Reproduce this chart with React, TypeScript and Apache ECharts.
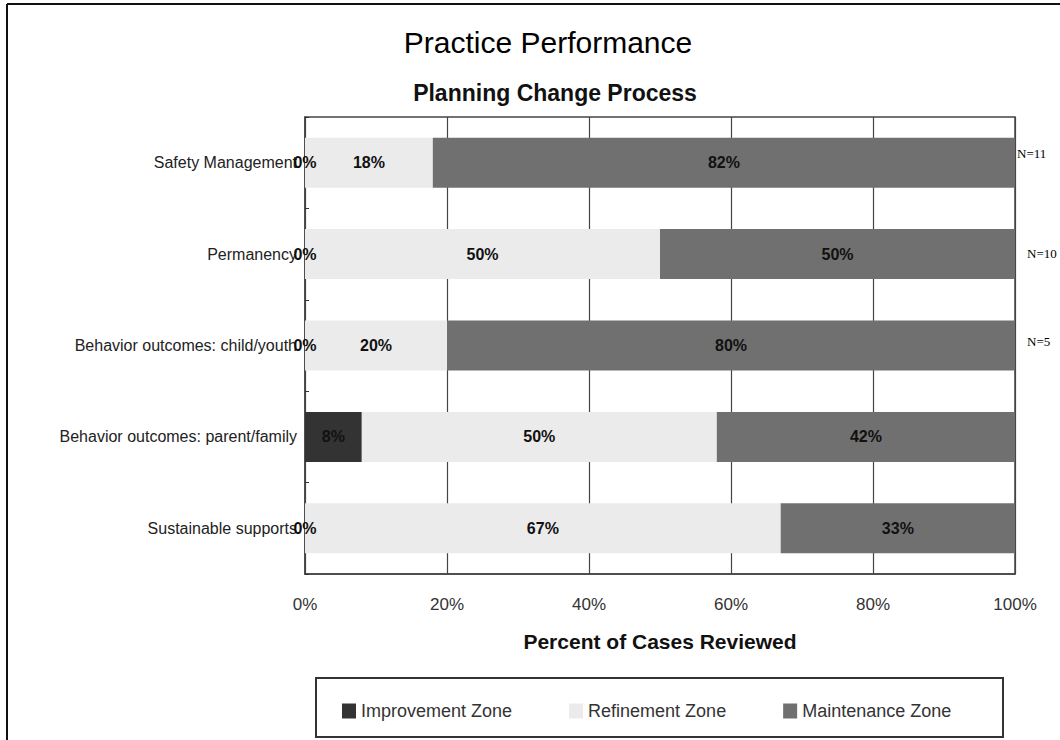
import React, { useEffect, useRef } from "react";
import * as echarts from "echarts";

const categories = [
  "Safety Management",
  "Permanency",
  "Behavior outcomes: child/youth",
  "Behavior outcomes: parent/family",
  "Sustainable supports",
];
const improvement = [0, 0, 0, 8, 0];
const refinement = [18, 50, 20, 50, 67];
const maintenance = [82, 50, 80, 42, 33];
const caseCounts = ["N=11", "N=10", "N=5", "", ""];
const xTicks = [0, 20, 40, 60, 80, 100];

const NARROW = "'Liberation Sans Narrow', 'Arial Narrow', 'Liberation Sans', Arial, sans-serif";

export default function App() {
  const ref = useRef<HTMLDivElement>(null);

  useEffect(() => {
    if (!ref.current) return;
    const chart = echarts.init(ref.current, null, { renderer: "svg" });

    const valueLabel = {
      show: true,
      position: "inside",
      formatter: "{c}%",
      fontFamily: NARROW,
      fontWeight: "bold",
      fontSize: 16,
      color: "#111",
    };

    // per-row offsets for the case-count notes at the right edge
    const noteOffsets = [
      [2, -9],
      [12, -1],
      [12, -4],
      [0, 0],
      [0, 0],
    ];

    chart.setOption({
      animation: false,
      backgroundColor: "#fff",
      title: [
        {
          text: "Practice Performance",
          left: 543,
          top: 22,
          textAlign: "center",
          textStyle: { fontFamily: NARROW, fontSize: 30, fontWeight: "normal", color: "#000" },
        },
        {
          text: "Planning Change Process",
          left: 550,
          top: 76,
          textAlign: "center",
          textStyle: { fontFamily: NARROW, fontSize: 23, fontWeight: "bold", color: "#111" },
        },
      ],
      legend: {
        data: ["Improvement Zone", "Refinement Zone", "Maintenance Zone"],
        left: 337,
        top: 697,
        itemWidth: 14,
        itemHeight: 15,
        itemGap: 57,
        icon: "rect",
        textStyle: { fontFamily: NARROW, fontSize: 18, color: "#333" },
      },
      grid: {
        left: 305,
        right: 45,
        top: 117,
        bottom: 166,
        show: true,
        borderColor: "#444",
        borderWidth: 1.5,
        backgroundColor: "transparent",
      },
      xAxis: {
        type: "value",
        min: xTicks[0],
        max: xTicks[xTicks.length - 1],
        interval: 20,
        name: "Percent of Cases Reviewed",
        nameLocation: "middle",
        nameGap: 57,
        nameTextStyle: { fontFamily: NARROW, fontSize: 21, fontWeight: "bold", color: "#111" },
        axisLine: { show: true, lineStyle: { color: "#444", width: 1.5 } },
        axisTick: { show: false },
        axisLabel: {
          formatter: "{value}%",
          fontFamily: NARROW,
          fontSize: 17,
          color: "#333",
          margin: 22,
        },
        splitLine: { show: true, lineStyle: { color: "#444", width: 1.2 } },
      },
      yAxis: {
        type: "category",
        inverse: true,
        data: categories,
        axisLine: { show: true, lineStyle: { color: "#444", width: 1.5 } },
        axisTick: { show: true, inside: true, length: 4, lineStyle: { color: "#333" } },
        axisLabel: { fontFamily: NARROW, fontSize: 16, color: "#222", margin: 8 },
        splitLine: { show: false },
      },
      series: [
        {
          name: "Improvement Zone",
          type: "bar",
          stack: "total",
          barWidth: 50,
          data: improvement,
          itemStyle: { color: "#333333" },
          label: valueLabel,
        },
        {
          name: "Refinement Zone",
          type: "bar",
          stack: "total",
          barWidth: 50,
          data: refinement,
          itemStyle: { color: "#ebebeb" },
          label: valueLabel,
        },
        {
          name: "Maintenance Zone",
          type: "bar",
          stack: "total",
          barWidth: 50,
          data: maintenance,
          itemStyle: { color: "#707070" },
          label: valueLabel,
        },
        {
          name: "Cases",
          type: "bar",
          stack: "total",
          barWidth: 50,
          data: caseCounts.map((n, i) => ({
            value: 0,
            label: {
              show: n !== "",
              position: "right",
              distance: noteOffsets[i][0],
              offset: [0, noteOffsets[i][1]],
              formatter: n,
              fontFamily: "'Liberation Serif', 'Times New Roman', serif",
              fontSize: 13,
              color: "#000",
            },
          })),
          itemStyle: { color: "transparent" },
          silent: true,
        },
      ],
      graphic: [
        {
          type: "line",
          shape: { x1: 7, y1: 4, x2: 1060, y2: 4 },
          style: { stroke: "#111", lineWidth: 2 },
        },
        {
          type: "line",
          shape: { x1: 7, y1: 4, x2: 7, y2: 740 },
          style: { stroke: "#111", lineWidth: 2 },
        },
        {
          type: "rect",
          shape: { x: 316, y: 678, width: 687, height: 59 },
          style: { fill: "none", stroke: "#333", lineWidth: 2 },
        },
      ],
    });

    return () => chart.dispose();
  }, []);

  return (
    <div
      ref={ref}
      style={{ position: "fixed", left: 0, top: 0, width: 1060, height: 740 }}
    />
  );
}
